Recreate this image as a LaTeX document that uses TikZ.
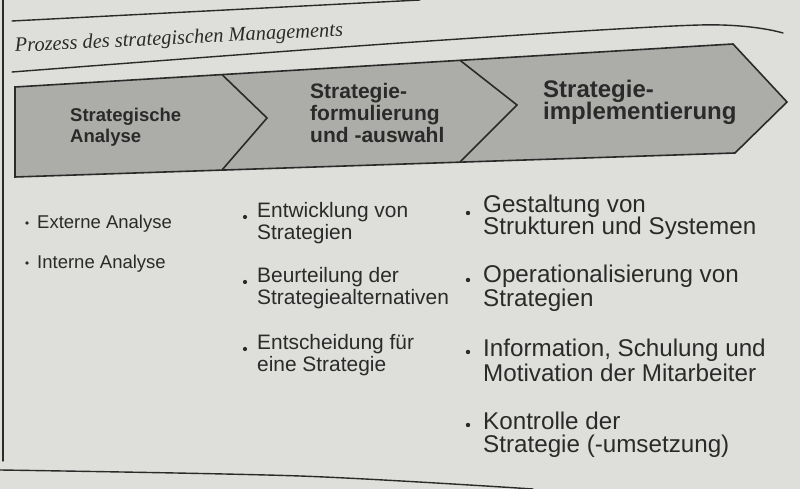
\documentclass[tikz,border=0pt]{standalone}
\usepackage{fontspec}
\setsansfont{Liberation Sans}
\newfontfamily\titlefont{Liberation Serif}
\definecolor{paper}{RGB}{222,222,218}
\definecolor{chev}{RGB}{172,172,169}
\definecolor{ink}{RGB}{42,42,42}
\begin{document}
\begin{tikzpicture}[x=1pt,y=1pt,
  rule/.style={draw=ink, line width=1.4pt, line cap=round},
  edge/.style={draw=ink, line width=1.6pt, line join=miter},
  stageA/.style={inner sep=0pt, anchor=base west, text=ink, font=\sffamily\bfseries\fontsize{18.5}{22}\selectfont},
  stageB/.style={inner sep=0pt, anchor=base west, text=ink, font=\sffamily\bfseries\fontsize{21}{22}\selectfont},
  stageC/.style={inner sep=0pt, anchor=base west, text=ink, font=\sffamily\bfseries\fontsize{24}{22}\selectfont},
  itemA/.style={inner sep=0pt, anchor=base west, text=ink, font=\sffamily\fontsize{18.5}{22}\selectfont},
  itemB/.style={inner sep=0pt, anchor=base west, text=ink, font=\sffamily\fontsize{20.9}{22}\selectfont},
  itemC/.style={inner sep=0pt, anchor=base west, text=ink, font=\sffamily\fontsize{24.2}{22}\selectfont},
  dot/.style={fill=ink}
]
\useasboundingbox (0,0) rectangle (800,489);
\fill[paper] (0,0) rectangle (800,489);

% frame lines
\draw[rule] (3,489) -- (3,28);
\draw[rule] (12,468) -- (420,489);
\draw[rule] plot[smooth] coordinates {(12,417) (400,446) (700,464) (783,456)};
\draw[rule] plot[smooth] coordinates {(0,19) (300,13) (533,0)};

% title
\node[inner sep=0pt, anchor=base west, text=ink, rotate=2.8,
      font=\titlefont\itshape\fontsize{20.4}{24}\selectfont] (title) at (15,437)
      {Prozess des strategischen Managements};

% chevron strip
\filldraw[edge, fill=chev] (15,312) -- (15,402) -- (733,445) -- (787,387) -- (735,336) -- cycle;
\draw[edge] (222,414.4) -- (267,371) -- (222,319);
\draw[edge] (460,428.7) -- (517,384) -- (460,327);

% stage labels
\node[stageA] (s1a) at (70,367) {Strategische};
\node[stageA] (s1b) at (70,346) {Analyse};
\node[stageB] (s2a) at (310,390) {Strategie-};
\node[stageB] (s2b) at (310,368) {formulierung};
\node[stageB] (s2c) at (310,346) {und -auswahl};
\node[stageC] (s3a) at (543,391) {Strategie-};
\node[stageC] (s3b) at (543,369) {implementierung};

% column 1
\fill[dot] (27,266) circle (1.8);
\node[itemA] (a1) at (37,260) {Externe Analyse};
\fill[dot] (27,226) circle (1.8);
\node[itemA] (a2) at (37,220) {Interne Analyse};

% column 2
\fill[dot] (245,272) circle (2.1);
\node[itemB] (b1a) at (257,271) {Entwicklung von};
\node[itemB] (b1b) at (257,249) {Strategien};
\fill[dot] (245,207) circle (2.1);
\node[itemB] (b2a) at (257,206) {Beurteilung der};
\node[itemB] (b2b) at (257,184) {Strategiealternativen};
\fill[dot] (245,140) circle (2.1);
\node[itemB] (b3a) at (257,139) {Entscheidung für};
\node[itemB] (b3b) at (257,117) {eine Strategie};

% column 3
\fill[dot] (468,276) circle (2.2);
\node[itemC] (c1a) at (483,276) {Gestaltung von};
\node[itemC] (c1b) at (483,254) {Strukturen und Systemen};
\fill[dot] (468,209) circle (2.2);
\node[itemC] (c2a) at (483,206) {Operationalisierung von};
\node[itemC] (c2b) at (483,182) {Strategien};
\fill[dot] (468,137) circle (2.2);
\node[itemC] (c3a) at (483,132) {Information, Schulung und};
\node[itemC] (c3b) at (483,107) {Motivation der Mitarbeiter};
\fill[dot] (468,64) circle (2.2);
\node[itemC] (c4a) at (483,59) {Kontrolle der};
\node[itemC] (c4b) at (483,36) {Strategie (-umsetzung)};
\end{tikzpicture}
\end{document}
